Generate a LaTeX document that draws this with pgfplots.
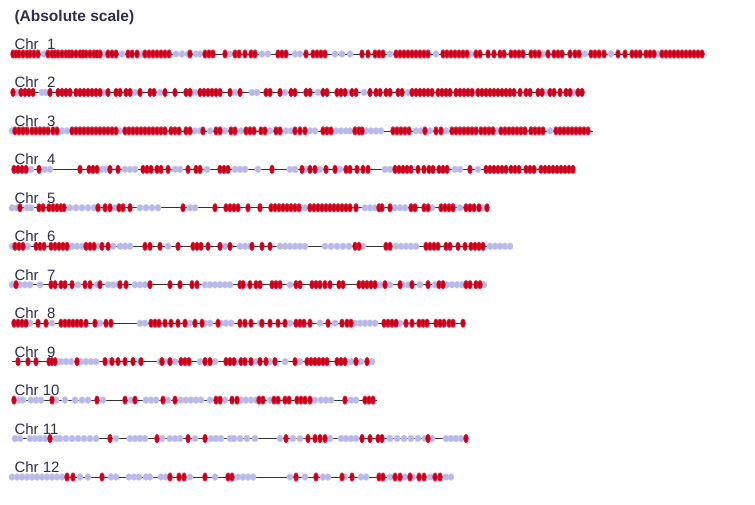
\documentclass[border=0pt]{standalone}
\usepackage{pgfplots}
\pgfplotsset{compat=1.18}
\usepackage{fontspec}
\setmainfont{Liberation Sans}
\definecolor{rfill}{HTML}{C0001C}
\definecolor{rdraw}{HTML}{F01830}
\definecolor{lfill}{HTML}{B8B8EA}
\definecolor{ldraw}{HTML}{C8C8F0}
\definecolor{txt}{HTML}{2E2E48}
\definecolor{chrline}{HTML}{333333}
\pgfplotsset{
  redm/.style={only marks, mark=*, mark size=4.2,
    mark options={xscale=0.55, fill=rfill, draw=rdraw, line width=0.7pt}},
  lavm/.style={only marks, mark=*, mark size=3.4,
    mark options={xscale=0.9, fill=lfill, draw=ldraw, line width=0.5pt}},
  chr/.style={chrline, line width=0.8pt, no marks},
}
\tikzset{chrlab/.style={anchor=base west, font=\fontsize{15}{15}\selectfont, text=txt, yshift=4.5pt}}
\begin{document}
\begin{tikzpicture}
\begin{axis}[
  width=755pt, height=504pt, scale only axis,
  xmin=0, xmax=755, ymin=-0.404, ymax=12.702, y dir=reverse,
  hide axis, clip=false,
]
\path (axis cs:0,-0.404) rectangle (axis cs:755,12.702);

% chromosome backbones
\addplot[chr] coordinates {(12,1) (705,1)};
\addplot[chr] coordinates {(12,2) (585,2)};
\addplot[chr] coordinates {(12,3) (593,3)};
\addplot[chr] coordinates {(12,4) (575,4)};
\addplot[chr] coordinates {(12,5) (487,5)};
\addplot[chr] coordinates {(12,6) (511,6)};
\addplot[chr] coordinates {(12,7) (487,7)};
\addplot[chr] coordinates {(12,8) (466,8)};
\addplot[chr] coordinates {(12,9) (375,9)};
\addplot[chr] coordinates {(12,10) (377,10)};
\addplot[chr] coordinates {(12,11) (467,11)};
\addplot[chr] coordinates {(12,12) (452,12)};

% lavender markers
\addplot[lavm] coordinates {(44,1) (104,1) (122,1) (142,1) (176,1) (182,1) (188,1) (196,1) (200,1) (230,1) (262,1) (268,1) (295,1) (300,1) (335,1) (342,1) (350,1) (390,1) (436,1) (471,1) (543,1) (585,1) (611,1) (658,1)};
\addplot[lavm] coordinates {(17,2) (42,2) (46,2) (104,2) (135,2) (160,2) (195,2) (235,2) (252,2) (257,2) (285,2) (318,2) (348,2) (364,2) (408,2) (476,2) (546,2) (574,2)};
\addplot[lavm] coordinates {(12,3) (62,3) (67,3) (120,3) (195,3) (200,3) (210,3) (225,3) (241,3) (270,3) (286,3) (291,3) (310,3) (315,3) (336,3) (341,3) (346,3) (350,3) (366,3) (371,3) (376,3) (381,3) (416,3) (421,3) (430,3) (446,3) (497,3) (550,3)};
\addplot[lavm] coordinates {(31,4) (45,4) (50,4) (102,4) (106,4) (125,4) (130,4) (135,4) (175,4) (180,4) (207,4) (235,4) (240,4) (245,4) (258,4) (290,4) (295,4) (306,4) (320,4) (340,4) (385,4) (390,4) (455,4) (460,4) (478,4)};
\addplot[lavm] coordinates {(12,5) (17,5) (27,5) (31,5) (70,5) (76,5) (82,5) (88,5) (94,5) (115,5) (140,5) (146,5) (152,5) (158,5) (190,5) (195,5) (305,5) (365,5) (370,5) (375,5) (395,5) (400,5) (405,5) (432,5) (460,5) (483,5)};
\addplot[lavm] coordinates {(12,6) (28,6) (72,6) (77,6) (82,6) (98,6) (113,6) (120,6) (125,6) (130,6) (168,6) (225,6) (240,6) (245,6) (250,6) (280,6) (285,6) (290,6) (295,6) (300,6) (305,6) (325,6) (331,6) (337,6) (343,6) (349,6) (363,6) (396,6) (401,6) (406,6) (411,6) (416,6) (490,6) (495,6) (500,6) (505,6) (510,6)};
\addplot[lavm] coordinates {(12,7) (20,7) (25,7) (30,7) (40,7) (78,7) (97,7) (108,7) (113,7) (118,7) (135,7) (140,7) (145,7) (205,7) (210,7) (215,7) (220,7) (225,7) (230,7) (245,7) (290,7) (380,7) (385,7) (390,7) (403,7) (408,7) (420,7) (435,7) (447,7) (452,7) (457,7) (462,7) (484,7)};
\addplot[lavm] coordinates {(30,8) (52,8) (100,8) (140,8) (145,8) (190,8) (205,8) (210,8) (221,8) (226,8) (231,8) (260,8) (290,8) (320,8) (335,8) (355,8) (360,8) (365,8) (370,8) (375,8) (400,8)};
\addplot[lavm] coordinates {(61,9) (66,9) (71,9) (81,9) (86,9) (91,9) (96,9) (110,9) (140,9) (160,9) (166,9) (175,9) (200,9) (205,9) (210,9) (215,9) (236,9) (256,9) (270,9) (285,9) (300,9) (351,9) (361,9) (372,9)};
\addplot[lavm] coordinates {(19,10) (23,10) (31,10) (36,10) (41,10) (56,10) (65,10) (75,10) (82,10) (88,10) (103,10) (131,10) (146,10) (151,10) (156,10) (168,10) (181,10) (186,10) (191,10) (196,10) (201,10) (210,10) (225,10) (241,10) (246,10) (251,10) (256,10) (270,10) (315,10) (321,10) (326,10) (331,10) (351,10) (356,10)};
\addplot[lavm] coordinates {(15,11) (20,11) (30,11) (35,11) (40,11) (45,11) (56,11) (60,11) (66,11) (72,11) (78,11) (84,11) (90,11) (96,11) (116,11) (130,11) (135,11) (140,11) (145,11) (162,11) (170,11) (175,11) (180,11) (195,11) (211,11) (216,11) (221,11) (230,11) (234,11) (240,11) (247,11) (255,11) (280,11) (293,11) (300,11) (330,11) (341,11) (346,11) (351,11) (356,11) (390,11) (397,11) (404,11) (411,11) (418,11) (425,11) (432,11) (446,11) (451,11) (456,11) (461,11)};
\addplot[lavm] coordinates {(12,12) (17,12) (22,12) (27,12) (32,12) (37,12) (42,12) (47,12) (52,12) (57,12) (62,12) (80,12) (88,12) (111,12) (116,12) (129,12) (134,12) (139,12) (146,12) (150,12) (161,12) (166,12) (190,12) (215,12) (238,12) (243,12) (248,12) (253,12) (290,12) (305,12) (323,12) (328,12) (345,12) (361,12) (366,12) (390,12) (405,12) (413,12) (430,12) (446,12) (451,12)};

% red markers
\addplot[redm] coordinates {(13,1) (16,1) (19,1) (23,1) (27,1) (30,1) (34,1) (38,1) (48,1) (52,1) (55,1) (58,1) (62,1) (66,1) (69,1) (72,1) (76,1) (80,1) (83,1) (86,1) (90,1) (94,1) (97,1) (100,1) (108,1) (112,1) (116,1) (128,1) (132,1) (137,1) (145,1) (149,1) (153,1) (157,1) (161,1) (165,1) (169,1) (190,1) (205,1) (209,1) (213,1) (225,1) (235,1) (239,1) (245,1) (251,1) (255,1) (278,1) (282,1) (286,1) (306,1) (313,1) (317,1) (321,1) (325,1) (362,1) (368,1) (375,1) (379,1) (383,1) (396,1) (400,1) (404,1) (408,1) (412,1) (416,1) (420,1) (424,1) (428,1) (443,1) (447,1) (451,1) (455,1) (459,1) (463,1) (467,1) (476,1) (480,1) (488,1) (494,1) (500,1) (504,1) (511,1) (515,1) (519,1) (523,1) (531,1) (535,1) (539,1) (548,1) (554,1) (558,1) (562,1) (570,1) (575,1) (579,1) (591,1) (595,1) (599,1) (604,1) (618,1) (625,1) (632,1) (636,1) (640,1) (646,1) (650,1) (654,1) (662,1) (666,1) (670,1) (674,1) (678,1) (682,1) (686,1) (690,1) (694,1) (698,1) (702,1)};
\addplot[redm] coordinates {(13,2) (21,2) (25,2) (29,2) (33,2) (50,2) (58,2) (62,2) (66,2) (70,2) (76,2) (80,2) (84,2) (88,2) (92,2) (96,2) (100,2) (108,2) (116,2) (120,2) (126,2) (130,2) (140,2) (150,2) (154,2) (165,2) (175,2) (186,2) (190,2) (200,2) (204,2) (208,2) (212,2) (216,2) (220,2) (230,2) (240,2) (266,2) (270,2) (280,2) (291,2) (295,2) (306,2) (310,2) (323,2) (327,2) (337,2) (341,2) (345,2) (352,2) (356,2) (370,2) (376,2) (380,2) (386,2) (390,2) (398,2) (402,2) (412,2) (416,2) (420,2) (424,2) (428,2) (432,2) (438,2) (442,2) (446,2) (450,2) (456,2) (460,2) (464,2) (468,2) (472,2) (478,2) (482,2) (486,2) (490,2) (494,2) (498,2) (502,2) (506,2) (510,2) (514,2) (520,2) (526,2) (530,2) (538,2) (542,2) (550,2) (554,2) (560,2) (566,2) (570,2) (578,2) (582,2)};
\addplot[redm] coordinates {(15,3) (19,3) (23,3) (27,3) (32,3) (36,3) (40,3) (44,3) (48,3) (53,3) (57,3) (72,3) (76,3) (80,3) (84,3) (88,3) (92,3) (96,3) (100,3) (104,3) (108,3) (112,3) (116,3) (125,3) (129,3) (133,3) (137,3) (141,3) (145,3) (149,3) (153,3) (157,3) (161,3) (165,3) (171,3) (175,3) (179,3) (186,3) (190,3) (203,3) (216,3) (220,3) (231,3) (235,3) (246,3) (250,3) (254,3) (261,3) (265,3) (276,3) (280,3) (295,3) (300,3) (305,3) (323,3) (327,3) (331,3) (355,3) (359,3) (362,3) (393,3) (397,3) (401,3) (405,3) (409,3) (425,3) (436,3) (441,3) (452,3) (456,3) (460,3) (464,3) (468,3) (472,3) (476,3) (481,3) (485,3) (489,3) (493,3) (501,3) (505,3) (509,3) (513,3) (517,3) (521,3) (525,3) (531,3) (535,3) (539,3) (543,3) (556,3) (560,3) (564,3) (568,3) (572,3) (576,3) (580,3) (584,3) (588,3)};
\addplot[redm] coordinates {(14,4) (18,4) (22,4) (26,4) (39,4) (80,4) (89,4) (93,4) (97,4) (110,4) (118,4) (143,4) (147,4) (151,4) (157,4) (161,4) (168,4) (188,4) (196,4) (200,4) (220,4) (224,4) (228,4) (272,4) (302,4) (310,4) (315,4) (326,4) (335,4) (346,4) (350,4) (357,4) (363,4) (368,4) (395,4) (399,4) (403,4) (407,4) (411,4) (418,4) (424,4) (429,4) (433,4) (439,4) (443,4) (447,4) (470,4) (486,4) (490,4) (494,4) (498,4) (502,4) (506,4) (511,4) (515,4) (519,4) (526,4) (530,4) (534,4) (541,4) (545,4) (549,4) (553,4) (557,4) (561,4) (565,4) (569,4) (573,4)};
\addplot[redm] coordinates {(20,5) (39,5) (43,5) (49,5) (53,5) (57,5) (61,5) (64,5) (98,5) (105,5) (110,5) (119,5) (123,5) (130,5) (183,5) (215,5) (226,5) (230,5) (234,5) (238,5) (248,5) (260,5) (271,5) (275,5) (279,5) (283,5) (287,5) (291,5) (295,5) (299,5) (310,5) (314,5) (318,5) (322,5) (326,5) (330,5) (334,5) (338,5) (342,5) (346,5) (350,5) (356,5) (379,5) (382,5) (390,5) (411,5) (415,5) (424,5) (428,5) (441,5) (445,5) (449,5) (453,5) (466,5) (470,5) (474,5) (479,5) (487,5)};
\addplot[redm] coordinates {(15,6) (19,6) (23,6) (36,6) (40,6) (44,6) (51,6) (55,6) (59,6) (63,6) (67,6) (86,6) (90,6) (94,6) (102,6) (108,6) (145,6) (150,6) (160,6) (178,6) (193,6) (197,6) (201,6) (208,6) (220,6) (230,6) (252,6) (262,6) (270,6) (355,6) (359,6) (386,6) (390,6) (426,6) (430,6) (434,6) (438,6) (446,6) (450,6) (458,6) (465,6) (471,6) (475,6) (479,6) (483,6)};
\addplot[redm] coordinates {(16,7) (51,7) (55,7) (61,7) (65,7) (72,7) (85,7) (90,7) (100,7) (120,7) (126,7) (150,7) (170,7) (180,7) (192,7) (197,7) (240,7) (243,7) (250,7) (256,7) (260,7) (272,7) (276,7) (280,7) (296,7) (300,7) (312,7) (316,7) (320,7) (325,7) (330,7) (339,7) (343,7) (359,7) (363,7) (367,7) (371,7) (375,7) (385,7) (400,7) (412,7) (428,7) (439,7) (443,7) (466,7) (470,7) (476,7) (480,7)};
\addplot[redm] coordinates {(14,8) (18,8) (22,8) (26,8) (38,8) (46,8) (61,8) (65,8) (69,8) (73,8) (77,8) (81,8) (86,8) (95,8) (106,8) (111,8) (151,8) (155,8) (159,8) (165,8) (171,8) (178,8) (185,8) (195,8) (202,8) (218,8) (240,8) (245,8) (251,8) (262,8) (270,8) (278,8) (285,8) (296,8) (300,8) (304,8) (310,8) (328,8) (342,8) (347,8) (351,8) (384,8) (388,8) (392,8) (396,8) (406,8) (412,8) (419,8) (423,8) (427,8) (436,8) (440,8) (444,8) (449,8) (453,8) (463,8)};
\addplot[redm] coordinates {(18,9) (28,9) (36,9) (49,9) (52,9) (55,9) (77,9) (105,9) (112,9) (118,9) (125,9) (133,9) (141,9) (162,9) (170,9) (181,9) (185,9) (189,9) (205,9) (210,9) (226,9) (230,9) (234,9) (241,9) (245,9) (251,9) (260,9) (266,9) (275,9) (295,9) (307,9) (311,9) (315,9) (319,9) (323,9) (327,9) (337,9) (341,9) (345,9) (356,9) (367,9)};
\addplot[redm] coordinates {(14,10) (52,10) (97,10) (125,10) (135,10) (163,10) (175,10) (216,10) (220,10) (232,10) (237,10) (259,10) (263,10) (274,10) (278,10) (285,10) (289,10) (297,10) (301,10) (305,10) (310,10) (345,10) (365,10) (369,10) (373,10)};
\addplot[redm] coordinates {(50,11) (110,11) (157,11) (188,11) (205,11) (286,11) (308,11) (315,11) (320,11) (325,11) (362,11) (370,11) (378,11) (382,11) (428,11) (466,11)};
\addplot[redm] coordinates {(67,12) (73,12) (102,12) (170,12) (179,12) (184,12) (205,12) (228,12) (232,12) (296,12) (316,12) (342,12) (352,12) (379,12) (383,12) (395,12) (400,12) (410,12) (419,12) (424,12) (435,12) (440,12)};

% labels
\node[anchor=base west, font=\bfseries\fontsize{15.5}{16}\selectfont, text=txt, yshift=-21pt]
  at (axis cs:11,-0.404) {(Absolute scale)};
\node[chrlab] at (axis cs:11,1) {Chr\ \ 1};
\node[chrlab] at (axis cs:11,2) {Chr\ \ 2};
\node[chrlab] at (axis cs:11,3) {Chr\ \ 3};
\node[chrlab] at (axis cs:11,4) {Chr\ \ 4};
\node[chrlab] at (axis cs:11,5) {Chr\ \ 5};
\node[chrlab] at (axis cs:11,6) {Chr\ \ 6};
\node[chrlab] at (axis cs:11,7) {Chr\ \ 7};
\node[chrlab] at (axis cs:11,8) {Chr\ \ 8};
\node[chrlab] at (axis cs:11,9) {Chr\ \ 9};
\node[chrlab] at (axis cs:11,10) {Chr 10};
\node[chrlab] at (axis cs:11,11) {Chr 11};
\node[chrlab] at (axis cs:11,12) {Chr 12};
\end{axis}
\end{tikzpicture}
\end{document}
